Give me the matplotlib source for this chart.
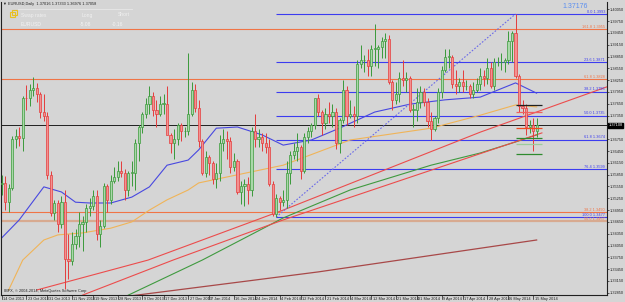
import numpy as np
import pandas as pd
import matplotlib
matplotlib.use("Agg")
import matplotlib.pyplot as plt
import matplotlib.transforms as mtrans

plt.rcParams["font.family"] = ["Liberation Sans Narrow", "Liberation Sans", "DejaVu Sans"]

# daily bars EURUSD, 14 Oct 2013 .. 16 May 2014 (no bars on 25 Dec / 1 Jan)
dates = pd.bdate_range("2013-10-14", "2014-05-16")
dates = dates[~dates.isin(pd.to_datetime(["2013-12-25", "2014-01-01"]))]

opens = [1.3560, 1.3564, 1.3515, 1.3552, 1.3675, 1.3683, 1.3677, 1.3780, 1.3779, 1.3800,
         1.3805, 1.3790, 1.3745, 1.3735, 1.3585, 1.3487, 1.3513, 1.3460, 1.3515, 1.3370,
         1.3365, 1.3410, 1.3430, 1.3460, 1.3465, 1.3500, 1.3505, 1.3530, 1.3435, 1.3455,
         1.3555, 1.3520, 1.3570, 1.3580, 1.3595, 1.3590, 1.3545, 1.3590, 1.3590, 1.3665,
         1.3705, 1.3740, 1.3765, 1.3785, 1.3750, 1.3740, 1.3765, 1.3765, 1.3685, 1.3665,
         1.3675, 1.3710, 1.3695, 1.3695, 1.3740, 1.3800, 1.3755, 1.3670, 1.3590, 1.3630,
         1.3615, 1.3575, 1.3590, 1.3665, 1.3675, 1.3670, 1.3605, 1.3620, 1.3540, 1.3555,
         1.3560, 1.3545, 1.3695, 1.3675, 1.3680, 1.3665, 1.3655, 1.3560, 1.3485, 1.3525,
         1.3515, 1.3520, 1.3590, 1.3635, 1.3645, 1.3655, 1.3595, 1.3680, 1.3695, 1.3710,
         1.3780, 1.3745, 1.3715, 1.3740, 1.3735, 1.3745, 1.3665, 1.3725, 1.3800, 1.3735,
         1.3740, 1.3735, 1.3865, 1.3875, 1.3875, 1.3860, 1.3905, 1.3905, 1.3910, 1.3925,
         1.3930, 1.3820, 1.3775, 1.3790, 1.3830, 1.3825, 1.3830, 1.3750, 1.3750, 1.3770,
         1.3795, 1.3770, 1.3720, 1.3700, 1.3730, 1.3795, 1.3850, 1.3885, 1.3885, 1.3815,
         1.3810, 1.3820, 1.3810, 1.3810, 1.3790, 1.3800, 1.3815, 1.3835, 1.3830, 1.3855,
         1.3810, 1.3870, 1.3870, 1.3870, 1.3875, 1.3925, 1.3945, 1.3835, 1.3760, 1.3755,
         1.3705, 1.3710, 1.3695]
highs = [1.3583, 1.3582, 1.3560, 1.3682, 1.3702, 1.3705, 1.3785, 1.3812, 1.3815, 1.3832,
         1.3818, 1.3795, 1.3790, 1.3745, 1.3595, 1.3520, 1.3520, 1.3530, 1.3545, 1.3435,
         1.3440, 1.3447, 1.3490, 1.3480, 1.3510, 1.3525, 1.3545, 1.3545, 1.3470, 1.3565,
         1.3560, 1.3585, 1.3605, 1.3620, 1.3620, 1.3600, 1.3595, 1.3620, 1.3675, 1.3712,
         1.3745, 1.3780, 1.3810, 1.3795, 1.3775, 1.3785, 1.3790, 1.3810, 1.3690, 1.3700,
         1.3715, 1.3715, 1.3705, 1.3893, 1.3820, 1.3815, 1.3775, 1.3675, 1.3645, 1.3635,
         1.3620, 1.3615, 1.3685, 1.3700, 1.3695, 1.3680, 1.3640, 1.3625, 1.3570, 1.3575,
         1.3580, 1.3705, 1.3740, 1.3700, 1.3690, 1.3690, 1.3675, 1.3570, 1.3535, 1.3530,
         1.3545, 1.3620, 1.3645, 1.3665, 1.3690, 1.3660, 1.3690, 1.3705, 1.3715, 1.3775,
         1.3790, 1.3750, 1.3755, 1.3770, 1.3765, 1.3755, 1.3730, 1.3825, 1.3810, 1.3775,
         1.3760, 1.3875, 1.3915, 1.3890, 1.3905, 1.3915, 1.3967, 1.3915, 1.3935, 1.3945,
         1.3940, 1.3825, 1.3820, 1.3845, 1.3875, 1.3845, 1.3835, 1.3765, 1.3805, 1.3810,
         1.3805, 1.3780, 1.3745, 1.3735, 1.3805, 1.3860, 1.3905, 1.3905, 1.3890, 1.3850,
         1.3830, 1.3850, 1.3825, 1.3815, 1.3820, 1.3830, 1.3855, 1.3850, 1.3880, 1.3870,
         1.3880, 1.3885, 1.3895, 1.3880, 1.3950, 1.3950, 1.3993, 1.3840, 1.3775, 1.3765,
         1.3725, 1.3730, 1.3730]
lows = [1.3534, 1.3496, 1.3490, 1.3545, 1.3653, 1.3657, 1.3645, 1.3750, 1.3760, 1.3785,
        1.3770, 1.3730, 1.3720, 1.3575, 1.3480, 1.3470, 1.3440, 1.3450, 1.3295, 1.3320,
        1.3355, 1.3395, 1.3400, 1.3390, 1.3440, 1.3480, 1.3495, 1.3420, 1.3400, 1.3450,
        1.3490, 1.3510, 1.3565, 1.3570, 1.3580, 1.3520, 1.3530, 1.3555, 1.3545, 1.3620,
        1.3690, 1.3730, 1.3740, 1.3735, 1.3705, 1.3735, 1.3740, 1.3690, 1.3640, 1.3625,
        1.3660, 1.3670, 1.3680, 1.3685, 1.3735, 1.3745, 1.3655, 1.3585, 1.3580, 1.3585,
        1.3560, 1.3550, 1.3570, 1.3645, 1.3625, 1.3590, 1.3595, 1.3535, 1.3510, 1.3505,
        1.3510, 1.3530, 1.3655, 1.3655, 1.3645, 1.3640, 1.3555, 1.3480, 1.3477, 1.3495,
        1.3505, 1.3500, 1.3560, 1.3625, 1.3620, 1.3575, 1.3590, 1.3665, 1.3680, 1.3700,
        1.3735, 1.3685, 1.3700, 1.3715, 1.3705, 1.3650, 1.3640, 1.3715, 1.3710, 1.3730,
        1.3705, 1.3715, 1.3855, 1.3845, 1.3835, 1.3835, 1.3860, 1.3855, 1.3880, 1.3880,
        1.3815, 1.3750, 1.3765, 1.3770, 1.3810, 1.3795, 1.3745, 1.3705, 1.3720, 1.3755,
        1.3760, 1.3705, 1.3673, 1.3695, 1.3715, 1.3780, 1.3845, 1.3855, 1.3805, 1.3790,
        1.3795, 1.3795, 1.3800, 1.3780, 1.3780, 1.3795, 1.3800, 1.3810, 1.3815, 1.3805,
        1.3800, 1.3860, 1.3850, 1.3845, 1.3865, 1.3870, 1.3830, 1.3745, 1.3740, 1.3685,
        1.3690, 1.3645, 1.3680]
closes = opens[1:] + [1.3710]

# indicator lines at some bars (bar index, price)
ma_blue_i = [0, 5, 12, 17, 21, 25, 31, 37, 42, 47, 53, 56, 61, 67, 74, 80, 88, 96, 106, 116, 126, 136, 146, 152]
ma_blue_p = [1.3424, 1.3470, 1.3554, 1.3541, 1.3515, 1.3513, 1.3513, 1.3528, 1.3554, 1.3609, 1.3622, 1.3648,
             1.3703, 1.3706, 1.3686, 1.3660, 1.3673, 1.3703, 1.3744, 1.3764, 1.3775, 1.3782, 1.3818, 1.3792]
ma_orange_i = [2, 6, 12, 16, 23, 31, 37, 42, 47, 53, 56, 80, 99, 122, 136, 146, 152]
ma_orange_p = [1.3292, 1.3368, 1.3419, 1.3432, 1.3437, 1.3449, 1.3465, 1.3495, 1.3521, 1.3546, 1.3564,
               1.3609, 1.3673, 1.3703, 1.3736, 1.3762, 1.3757]
ma_green_i = [36, 57, 80, 99, 122, 136, 146, 152]
ma_green_p = [1.3279, 1.3368, 1.3475, 1.3546, 1.3609, 1.3640, 1.3668, 1.3686]
ma_maroon_i = [34, 70, 90, 113, 152]
ma_maroon_p = [1.3274, 1.3315, 1.3338, 1.3368, 1.3419]
red_a_i = [10, 41.6, 80, 136, 172.6]
red_a_p = [1.3292, 1.3368, 1.3495, 1.3693, 1.3810]
red_b_i = [23, 48.7, 80, 153.5]
red_b_p = [1.3279, 1.3368, 1.3470, 1.3691]

# fibonacci levels (blue, drawn from 3 Feb low) and orange levels
fib_names = ["0.0", "23.6", "38.2", "50.0", "61.8", "76.4", "100.0"]
fib_prices = [1.3993, 1.3871, 1.3796, 1.3735, 1.3674, 1.3599, 1.3477]
org_names = ["161.8", "61.8", "38.2", "50.0"]
org_prices = [1.3955, 1.3828, 1.3490, 1.3467]
bid = 1.37108

# short level marks over the last bars
mark_prices = [1.3762, 1.3745, 1.3703, 1.3678, 1.3663, 1.3637]
mark_colors = ["#202020", "#f06060", "#f04a20", "#2e8a2e", "#9ccc9c", "#2e8a2e"]

price_ticks = [1.40050 - 0.003 * k for k in range(25)]
price_labels = ["%.5f" % p for p in price_ticks]
date_labels = ["14 Oct 2013", "23 Oct 2013", "31 Oct 2013", "11 Nov 2013", "19 Nov 2013", "28 Nov 2013",
               "9 Dec 2013", "17 Dec 2013", "27 Dec 2013", "7 Jan 2014", "16 Jan 2014", "24 Jan 2014",
               "4 Feb 2014", "12 Feb 2014", "21 Feb 2014", "4 Mar 2014", "12 Mar 2014", "21 Mar 2014",
               "31 Mar 2014", "9 Apr 2014", "17 Apr 2014", "28 Apr 2014", "6 May 2014", "15 May 2014"]

bg = "#d5d5d5"
fs = 2.8
fig = plt.figure(figsize=(6.25, 3.02), dpi=100)
fig.patch.set_facecolor(bg)
ax = fig.add_axes([1 / 625, 7 / 302, 606 / 625, 293 / 302])
ax.set_facecolor(bg)
ax.set_xlim(-0.17, 171.99)
ax.set_ylim(1.32793, 1.40235)
xmax = 171.99

n = len(dates)
x = np.arange(n)
o = np.array(opens); h = np.array(highs); l = np.array(lows); c = np.array(closes)
up = c >= o
ax.vlines(x[up], l[up], h[up], color="#3a9a3a", lw=0.7, zorder=3)
ax.vlines(x[~up], l[~up], h[~up], color="#e43c3c", lw=0.7, zorder=3)
body = np.maximum(np.abs(c - o), 0.00008)
ax.bar(x[up], body[up], bottom=np.minimum(o, c)[up], width=0.62, color="#a9d8a9",
       edgecolor="#3a9a3a", lw=0.5, zorder=4)
ax.bar(x[~up], body[~up], bottom=np.minimum(o, c)[~up], width=0.62, color="#f49090",
       edgecolor="#e43c3c", lw=0.5, zorder=4)

# moving averages / trend lines
ax.plot(ma_blue_i, ma_blue_p, color="#4848e0", lw=0.8, zorder=2)
ax.plot(ma_orange_i, ma_orange_p, color="#f0b458", lw=0.8, zorder=2)
ax.plot(ma_green_i, ma_green_p, color="#3f9a3f", lw=0.8, zorder=2)
ax.plot(ma_maroon_i, ma_maroon_p, color="#a84848", lw=0.9, zorder=2)
ax.plot(red_a_i, red_a_p, color="#ec4c4c", lw=0.8, zorder=2)
ax.plot(red_b_i, red_b_p, color="#ec4c4c", lw=0.8, zorder=2)

# fib dotted trend line
i_lo = 78
i_hi = 146
ax.plot([i_lo, i_hi], [fib_prices[-1], fib_prices[0]], color="#6a6ae8", lw=0.8, ls=(0, (1.5, 1.5)), zorder=2)

ax.axhline(bid, color="#202020", lw=0.7, zorder=1)
for name, p in zip(fib_names, fib_prices):
    ax.hlines(p, i_lo, xmax, color="#3c3cf0", lw=0.8, zorder=1)
    ax.text(xmax - 0.6, p + 0.0001, "%s %.4f" % (name, p), color="#3c3cf0", fontsize=fs,
            ha="right", va="bottom", zorder=6)
for k, (name, p) in enumerate(zip(org_names, org_prices)):
    col = "#d8aa90" if k == 3 else "#f07446"
    lw = 1.6 if k == 3 else 0.8
    ax.axhline(p, color=col, lw=lw, zorder=1)
    ax.text(xmax - 0.6, p + 0.0001, "%s %.4f" % (name, p), color="#f07446", fontsize=fs,
            ha="right", va="bottom", zorder=6)

for p, col in zip(mark_prices, mark_colors):
    ax.hlines(p, 146.1, 153.5, color=col, lw=0.9, zorder=5)

ax.text(166.5, 1.4012, "1.37176", color="#5a8ef0", fontsize=5, ha="right", va="center")

# axes frame in MT4 style
ax.spines["top"].set_visible(False)
for s in ["left", "right", "bottom"]:
    ax.spines[s].set_color("#202020")
    ax.spines[s].set_linewidth(0.8)
ax.yaxis.tick_right()
ax.set_yticks(price_ticks)
ax.set_yticklabels(price_labels)
ax.tick_params(axis="y", direction="out", length=1.5, width=0.5, colors="#202020", labelsize=fs, pad=0.6)
ax.set_xticks([])

# date labels: tick and text to the right
date_idx = [int(np.where(dates == pd.to_datetime(d))[0][0]) for d in date_labels]
trans = mtrans.blended_transform_factory(ax.transData, ax.transAxes)
for i, lab in zip(date_idx, date_labels):
    ax.plot([i, i], [0, -0.014], color="#202020", lw=0.5, transform=trans, clip_on=False)
    ax.text(i + 0.4, -0.008, lab, fontsize=fs, color="#202020", ha="left", va="top",
            transform=trans, clip_on=False)

# bid price box on the scale
ax.text(1.002, bid, "1.37108", transform=mtrans.blended_transform_factory(ax.transAxes, ax.transData),
        fontsize=fs, color="white", ha="left", va="center",
        bbox=dict(boxstyle="square,pad=0.12", fc="black", ec="black"), clip_on=False, zorder=8)

# header and panels
fig.text(3 / 625, 1 - 4 / 302, "\u25bc EURUSD,Daily  1.37016 1.37333 1.36976 1.37058", fontsize=fs,
         color="#202020", ha="left", va="center")
fig.text(21 / 625, 1 - 15 / 302, "Swap rates", fontsize=3.6, color="#f0f0f0", ha="left", va="center")
fig.text(82 / 625, 1 - 15 / 302, "Long", fontsize=3.6, color="#f0f0f0", ha="left", va="center")
fig.text(118 / 625, 1 - 15 / 302, "Short", fontsize=3.6, color="#f0f0f0", ha="left", va="center")
fig.text(21 / 625, 1 - 25 / 302, "EURUSD", fontsize=3.6, color="#f4f4f4", ha="left", va="center")
fig.text(80 / 625, 1 - 25 / 302, "-5.08", fontsize=3.6, color="#f4f4f4", ha="left", va="center")
fig.text(112 / 625, 1 - 25 / 302, "-0.16", fontsize=3.6, color="#f4f4f4", ha="left", va="center")
fig.add_artist(plt.Line2D([18 / 625, 132 / 625], [1 - 9 / 302, 1 - 9 / 302], color="#e8e8e8", lw=0.6))
fig.add_artist(plt.Rectangle((10 / 625, 1 - 17 / 302), 5 / 625, 5 / 302, fill=False, ec="#e8c020", lw=0.8))
fig.add_artist(plt.Rectangle((12 / 625, 1 - 15 / 302), 5 / 625, 5 / 302, fill=False, ec="#e8c020", lw=0.8))
fig.text(4 / 625, 1 - 291 / 302, "IBFX, \u00a9 2004-2014, MetaQuotes Software Corp.", fontsize=fs,
         color="#202020", ha="left", va="center")

fig.savefig("out.png", dpi=100, facecolor=bg)
